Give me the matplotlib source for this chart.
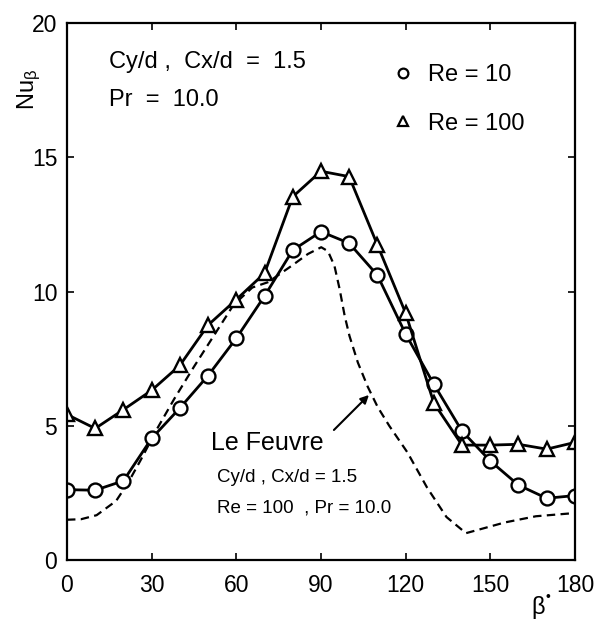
import numpy as np
import matplotlib
matplotlib.use("Agg")
import matplotlib.pyplot as plt
from matplotlib.lines import Line2D

plt.rcParams['font.family'] = ['Liberation Sans', 'DejaVu Sans']
plt.rcParams['mathtext.fontset'] = 'custom'
plt.rcParams['mathtext.rm'] = 'Liberation Sans'
plt.rcParams['mathtext.it'] = 'Liberation Sans'

# Local Nusselt number vs angle
beta = [0, 10, 20, 30, 40, 50, 60, 70, 80, 90, 100, 110, 120, 130, 140, 150, 160, 170, 180]
nu_re10 = [2.62, 2.6, 2.95, 4.53, 5.66, 6.87, 8.26, 9.83, 11.54, 12.23, 11.8, 10.61, 8.42,
           6.55, 4.8, 3.69, 2.79, 2.3, 2.4]
nu_re100 = [5.42, 4.9, 5.6, 6.32, 7.25, 8.75, 9.7, 10.68, 13.53, 14.48, 14.28, 11.74, 9.2,
            5.85, 4.28, 4.28, 4.31, 4.13, 4.38]

# Le Feuvre curve (dashed)
lf_beta = [0, 5, 10.5, 17.4, 21.5, 26, 32, 38, 45, 52, 59, 65.7, 71.3, 79.5, 85.4, 90.1,
           92.5, 94.8, 96.6, 98.4, 100.1, 103.1, 106.6, 110.1, 114.2, 120.7, 127.6, 134.5,
           141.4, 148.3, 155.2, 166.2, 180]
lf_nu = [1.5, 1.52, 1.67, 2.2, 2.85, 3.7, 4.9, 6.0, 7.2, 8.35, 9.5, 10.15, 10.35, 10.95,
         11.4, 11.65, 11.5, 10.95, 10.1, 9.1, 8.35, 7.35, 6.45, 5.7, 5.0, 4.0, 2.7, 1.6,
         1.0, 1.2, 1.4, 1.63, 1.75]

fig = plt.figure(figsize=(6.09, 6.21), dpi=100)
ax = fig.add_axes([0.110, 0.0982, 0.834, 0.8647])

ax.plot(lf_beta, lf_nu, color='black', lw=1.6, ls=(0, (3.8, 2.4)))
ax.plot(beta, nu_re10, color='black', lw=2.0, marker='o', ms=10,
        mfc='white', mec='black', mew=1.7)
ax.plot(beta, nu_re100, color='black', lw=2.0, marker='^', ms=10.5,
        mfc='white', mec='black', mew=1.7)

ax.set_xlim(0, 180)
ax.set_ylim(0, 20)
ax.set_xticks([0, 30, 60, 90, 120, 150, 180])
ax.set_yticks([0, 5, 10, 15, 20])
ax.tick_params(direction='in', length=5, width=1.2, labelsize=16.5,
               top=True, right=True)
ax.tick_params(axis='x', pad=10)
ax.tick_params(axis='y', pad=7)
for s in ax.spines.values():
    s.set_linewidth(1.6)

ax.text(-0.075, 0.877, r'Nu$_{\beta}$', transform=ax.transAxes, rotation=90,
        fontsize=17, ha='center', va='center')
ax.text(0.927, -0.0875, r'$\beta$', transform=ax.transAxes, fontsize=17,
        ha='center', va='center')
ax.text(0.947, -0.069, '•', transform=ax.transAxes, fontsize=10,
        ha='center', va='center')

ax.text(14.9, 18.55, 'Cy/d ,  Cx/d  =  1.5', fontsize=17, va='center')
ax.text(14.9, 17.13, 'Pr  =  10.0', fontsize=17, va='center')

# legend shows markers only
handles = [Line2D([], [], ls='none', marker='o', ms=7, mfc='white', mec='black', mew=1.6),
           Line2D([], [], ls='none', marker='^', ms=7.5, mfc='white', mec='black', mew=1.6)]
ax.legend(handles, ['Re = 10', 'Re = 100'], loc='upper left',
          bbox_to_anchor=(0.638, 0.924), frameon=False, fontsize=17,
          handlelength=1.0, handletextpad=0.56, labelspacing=1.13,
          borderpad=0, borderaxespad=0)

ax.annotate('', xy=(107.7, 6.22), xytext=(93.9, 4.77),
            arrowprops=dict(arrowstyle='-|>', color='black', lw=1.5,
                            mutation_scale=12))
ax.text(51, 4.36, 'Le Feuvre', fontsize=18, va='center')
ax.text(53.2, 3.09, 'Cy/d , Cx/d = 1.5', fontsize=13.5, va='center')
ax.text(53.2, 1.94, 'Re = 100  , Pr = 10.0', fontsize=13.5, va='center')

fig.savefig('out.png', dpi=100)
